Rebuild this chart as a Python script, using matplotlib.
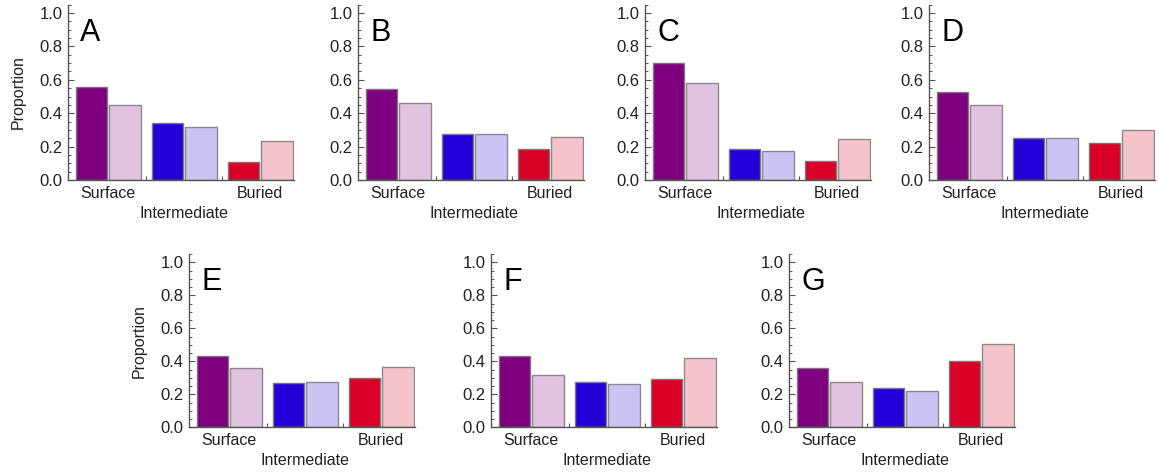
import matplotlib.pyplot as plt
from matplotlib.ticker import MultipleLocator

plt.rcParams['font.family'] = ['Liberation Sans', 'DejaVu Sans']

# ____________________ data ____________________
groups = ["Surface", "Intermediate", "Buried"]
panels = ["A", "B", "C", "D", "E", "F", "G"]

# per panel: (dark, light) pairs for Surface, Intermediate, Buried
values_a = [0.555, 0.447, 0.340, 0.320, 0.110, 0.234]
values_b = [0.543, 0.463, 0.277, 0.277, 0.184, 0.260]
values_c = [0.700, 0.580, 0.186, 0.174, 0.112, 0.245]
values_d = [0.525, 0.449, 0.253, 0.253, 0.224, 0.300]
values_e = [0.432, 0.360, 0.270, 0.276, 0.299, 0.363]
values_f = [0.434, 0.315, 0.275, 0.265, 0.295, 0.420]
values_g = [0.361, 0.275, 0.236, 0.222, 0.404, 0.507]
all_values = [values_a, values_b, values_c, values_d, values_e, values_f, values_g]

dark_colors = ["#7f007f", "#2300d8", "#d80027"]
light_colors = ["#e1c2e1", "#c9c4f4", "#f5c3cb"]

# ____________________ layout (pixels) ____________________
W, H = 1159, 474
fig = plt.figure(figsize=(W / 100, H / 100), dpi=100)

lefts = [68, 358, 645, 929, 189, 491, 789]
bottoms = [180, 180, 180, 180, 427.3, 427.3, 427.3]
px_per_unit_y = [167, 167, 167, 167, 165, 165, 165]

xmin, xmax = -0.53, 2.45
px_per_x = 76
ymax = 1.05
bar_w = 0.41
off = 0.22

for i, vals in enumerate(all_values):
    width_px = (xmax - xmin) * px_per_x
    height_px = ymax * px_per_unit_y[i]
    ax = fig.add_axes([lefts[i] / W, 1 - bottoms[i] / H, width_px / W, height_px / H])

    for g in range(3):
        ax.bar(g - off, vals[2 * g], width=bar_w, color=dark_colors[g],
               edgecolor="#7a7a7a", linewidth=1.0)
        ax.bar(g + off, vals[2 * g + 1], width=bar_w, color=light_colors[g],
               edgecolor="#8a8a8a", linewidth=1.0)

    ax.set_xlim(xmin, xmax)
    ax.set_ylim(0, ymax)

    for s in ["top", "right"]:
        ax.spines[s].set_visible(False)
    for s in ["left", "bottom"]:
        ax.spines[s].set_color("#555555")
        ax.spines[s].set_linewidth(1.0)

    ax.yaxis.set_major_locator(MultipleLocator(0.2))
    ax.yaxis.set_minor_locator(MultipleLocator(0.05))
    ax.set_yticks([0, 0.2, 0.4, 0.6, 0.8, 1.0])
    ax.set_yticklabels(["0.0", "0.2", "0.4", "0.6", "0.8", "1.0"])
    ax.tick_params(axis="y", which="major", direction="in", length=4, width=0.8,
                   color="#555555", labelsize=12, pad=4, labelcolor="#222222")
    ax.tick_params(axis="y", which="minor", direction="in", length=2.5, width=0.7,
                   color="#555555")

    ax.set_xticks([0.5, 1.5])
    ax.set_xticklabels([])
    ax.tick_params(axis="x", which="major", direction="in", length=3, width=0.8,
                   color="#555555")

    # staggered group labels
    for g, name in enumerate(groups):
        dy = -23.8 if g == 1 else -9.4
        ax.annotate(name, xy=(g, 0), xycoords=("data", "axes fraction"),
                    xytext=(0, dy), textcoords="offset points",
                    ha="center", va="center", fontsize=11.5, color="#222222")

    ax.text(-0.37, 0.83, panels[i], fontsize=22, color="black",
            ha="left", va="baseline")

    if i in (0, 4):
        ax.set_ylabel("Proportion", fontsize=11.5, color="#222222", labelpad=10)

fig.savefig("out.png", dpi=100)
